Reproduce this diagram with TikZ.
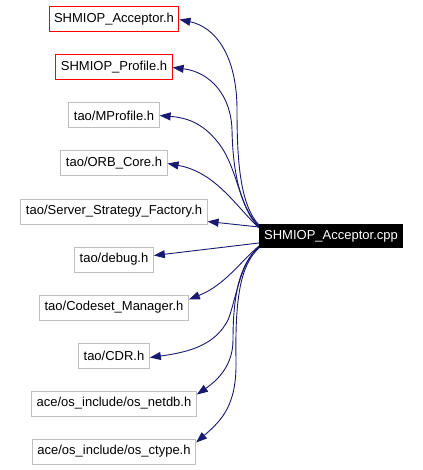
\documentclass[tikz,border=0pt]{standalone}
\usepackage{fontspec}
\setmainfont{Liberation Sans}
\usetikzlibrary{arrows.meta,positioning}
\definecolor{EdgeBlue}{RGB}{25,25,112}
\definecolor{BoxGray}{RGB}{191,191,191}
\definecolor{BoxRed}{RGB}{255,0,0}
\tikzset{
  header/.style={draw=BoxGray,line width=1pt,fill=white,minimum height=25pt,
    inner xsep=5pt,inner ysep=1pt,font=\fontsize{13}{15}\selectfont},
  missing/.style={header,draw=BoxRed},
  source/.style={fill=black,text=white,minimum height=24pt,inner xsep=5pt,
    inner ysep=1pt,font=\fontsize{13}{15}\selectfont},
  dep/.style={-{Triangle[length=11pt,width=8pt]},line width=0.9pt,EdgeBlue}
}

\begin{document}
\begin{tikzpicture}[x=1pt,y=-1pt,node distance=22pt]
\useasboundingbox (0,0) rectangle (422,470);

\node[missing] (acc) at (114,19.5) {SHMIOP\_Acceptor.h};
\node[missing,below=of acc] (prof) {SHMIOP\_Profile.h};
\node[header,below=of prof] (mprof) {tao/MProfile.h};
\node[header,below=of mprof] (orb) {tao/ORB\_Core.h};
\node[header,below=of orb] (ssf) {tao/Server\_Strategy\_Factory.h};
\node[header,below=of ssf] (dbg) {tao/debug.h};
\node[header,below=of dbg] (csm) {tao/Codeset\_Manager.h};
\node[header,below=of csm] (cdr) {tao/CDR.h};
\node[header,below=of cdr] (netdb) {ace/os\_include/os\_netdb.h};
\node[header,below=of netdb] (ctype) {ace/os\_include/os\_ctype.h};

\node[source] (cpp) at (331,236) {SHMIOP\_Acceptor.cpp};

% includes of the .cpp
\draw[dep] ([yshift=11pt]cpp.west) .. controls (240,205) and (237,160) .. (237,110)
  .. controls (237,55) and (215,27) .. (acc.east);
\draw[dep] ([yshift=10pt]cpp.west) .. controls (243,210) and (233,180) .. (232,130)
  .. controls (231,95) and (210,72) .. (prof.east);
\draw[dep] ([yshift=9pt]cpp.west) .. controls (240,210) and (238,170) .. (220,145)
  .. controls (205,125) and (190,118) .. (mprof.east);
\draw[dep] ([yshift=8pt]cpp.west) .. controls (235,205) and (215,172) .. (orb.east);
\draw[dep] ([yshift=9pt]cpp.west) -- ([yshift=-10pt]ssf.east);
\draw[dep] ([yshift=-7pt]cpp.west) -- ([yshift=4pt]dbg.east);
\draw[dep] ([yshift=-10pt]cpp.west) .. controls (240,262) and (225,285) .. ([yshift=8pt]csm.east);
\draw[dep] ([yshift=-11pt]cpp.west) .. controls (240,262) and (236,300) .. (228,320)
  .. controls (215,345) and (190,352) .. ([yshift=-2pt]cdr.east);
\draw[dep] ([yshift=-11pt]cpp.west) .. controls (238,265) and (233,300) .. (233,340)
  .. controls (233,365) and (218,380) .. ([yshift=9pt]netdb.east);
\draw[dep] ([yshift=-12pt]cpp.west) .. controls (240,265) and (235,300) .. (236,360)
  .. controls (237,405) and (222,420) .. ([yshift=9pt]ctype.east);

\end{tikzpicture}
\end{document}
